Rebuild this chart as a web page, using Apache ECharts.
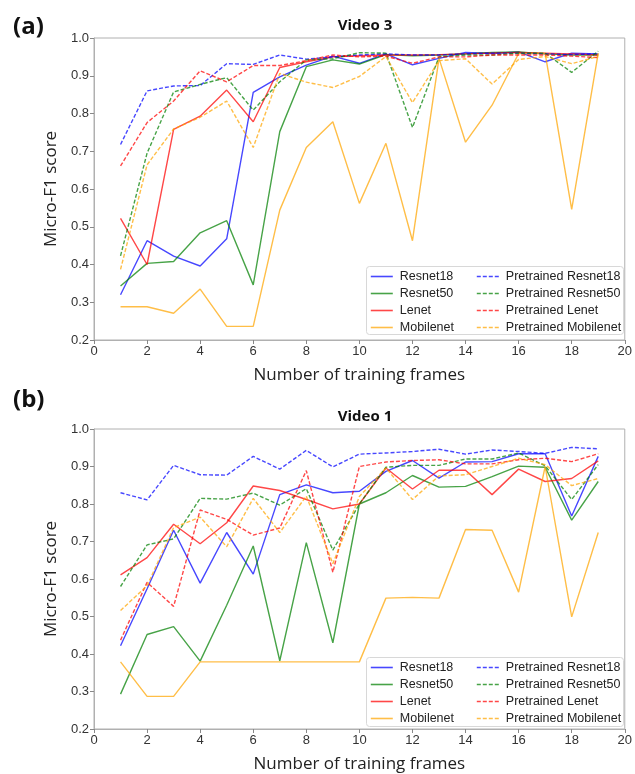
<!DOCTYPE html>
<html>
<head>
<meta charset="utf-8">
<script src="https://cdn.jsdelivr.net/npm/echarts@6/dist/echarts.min.js"></script>
<style>
html,body{margin:0;padding:0;background:#fff;}
#c{width:635px;height:774px;}
</style>
</head>
<body>
<div id="c"></div>
<script>
const frames = [1,2,3,4,5,6,7,8,9,10,11,12,13,14,15,16,17,18,19];
const yTicks = [0.2,0.3,0.4,0.5,0.6,0.7,0.8,0.9,1.0];
const xTicks = [0,2,4,6,8,10,12,14,16,18,20];
const seriesNames = ['Resnet18','Resnet50','Lenet','Mobilenet','Pretrained Resnet18','Pretrained Resnet50','Pretrained Lenet','Pretrained Mobilenet'];

// (a) Video 3
const v3_resnet18   = [0.320,0.463,0.422,0.396,0.468,0.856,0.897,0.928,0.952,0.933,0.958,0.929,0.946,0.962,0.959,0.963,0.937,0.960,0.958];
const v3_resnet50   = [0.343,0.403,0.408,0.484,0.516,0.346,0.752,0.924,0.942,0.931,0.956,0.953,0.955,0.958,0.962,0.963,0.958,0.955,0.955];
const v3_lenet      = [0.522,0.400,0.758,0.793,0.862,0.778,0.922,0.937,0.950,0.953,0.955,0.955,0.956,0.958,0.960,0.962,0.960,0.958,0.955];
const v3_mobilenet  = [0.288,0.288,0.271,0.335,0.236,0.236,0.544,0.710,0.778,0.562,0.721,0.463,0.946,0.724,0.822,0.959,0.959,0.546,0.960];
const v3_pResnet18  = [0.718,0.860,0.873,0.874,0.932,0.930,0.955,0.944,0.950,0.955,0.958,0.955,0.955,0.958,0.960,0.960,0.958,0.956,0.958];
const v3_pResnet50  = [0.423,0.695,0.857,0.877,0.895,0.809,0.884,0.942,0.945,0.961,0.960,0.763,0.950,0.955,0.955,0.960,0.960,0.909,0.965];
const v3_pLenet     = [0.661,0.776,0.833,0.913,0.884,0.927,0.927,0.940,0.955,0.950,0.952,0.933,0.950,0.950,0.955,0.955,0.955,0.952,0.948];
const v3_pMobilenet = [0.387,0.664,0.759,0.790,0.833,0.710,0.906,0.883,0.869,0.898,0.951,0.829,0.940,0.945,0.878,0.943,0.951,0.932,0.951];

// (b) Video 1
const v1_resnet18   = [0.422,0.574,0.730,0.589,0.724,0.613,0.825,0.851,0.830,0.834,0.887,0.916,0.869,0.912,0.913,0.934,0.934,0.768,0.927];
const v1_resnet50   = [0.293,0.452,0.473,0.381,0.530,0.688,0.382,0.697,0.430,0.800,0.830,0.876,0.845,0.847,0.873,0.901,0.898,0.757,0.860];
const v1_lenet      = [0.611,0.657,0.746,0.694,0.750,0.848,0.836,0.812,0.787,0.800,0.896,0.840,0.890,0.890,0.825,0.893,0.860,0.868,0.915];
const v1_mobilenet  = [0.379,0.287,0.287,0.379,0.379,0.379,0.379,0.379,0.379,0.379,0.549,0.551,0.549,0.732,0.730,0.565,0.900,0.499,0.724];
const v1_pResnet18  = [0.830,0.811,0.903,0.878,0.877,0.927,0.893,0.943,0.899,0.933,0.936,0.940,0.946,0.933,0.944,0.940,0.935,0.951,0.947];
const v1_pResnet50  = [0.580,0.691,0.707,0.815,0.813,0.829,0.797,0.841,0.677,0.800,0.898,0.903,0.903,0.920,0.920,0.936,0.902,0.812,0.905];
const v1_pLenet     = [0.437,0.591,0.527,0.784,0.759,0.717,0.736,0.889,0.618,0.900,0.912,0.916,0.918,0.907,0.907,0.918,0.922,0.913,0.934];
const v1_pMobilenet = [0.516,0.582,0.737,0.765,0.686,0.815,0.724,0.821,0.641,0.820,0.896,0.812,0.875,0.878,0.900,0.922,0.905,0.849,0.868];

const colors = ['#0000ff','#008000','#ff0000','#ffa500','#0000ff','#008000','#ff0000','#ffa500'];
const tickFont = 'Liberation Sans, Arial, sans-serif';
const nameFont = 'Open Sans, sans-serif';

const chart = echarts.init(document.getElementById('c'), null, {renderer:'canvas'});

function mkSeries(arrs, gi){
  return arrs.map((arr, i) => ({
    name: seriesNames[i],
    type: 'line',
    xAxisIndex: gi, yAxisIndex: gi,
    data: frames.map((f, k) => [f, arr[k]]),
    symbol: 'none',
    silent: true,
    animation: false,
    color: colors[i],
    lineStyle: {color: colors[i], width: 1.4, opacity: 0.72, type: i >= 4 ? [4, 2] : 'solid'}
  }));
}

const grids = [
  {left: 94, right: 8, top: 38, height: 302, show: true, borderColor: '#b0b0b0', borderWidth: 1, backgroundColor: 'transparent'},
  {left: 94, right: 8, top: 429, height: 302, show: true, borderColor: '#b0b0b0', borderWidth: 1, backgroundColor: 'transparent'}
];

function xAx(gi){
  return {
    gridIndex: gi, type: 'value', min: xTicks[0], max: xTicks[xTicks.length-1], interval: 2,
    name: 'Number of training frames', nameLocation: 'middle', nameGap: 27,
    nameTextStyle: {fontFamily: nameFont, fontSize: 17, color: '#222'},
    axisLine: {show: true, lineStyle: {color: '#b0b0b0'}},
    axisTick: {show: true, length: 4, lineStyle: {color: '#888'}},
    axisLabel: {fontFamily: tickFont, fontSize: 13, color: '#333', margin: 5},
    splitLine: {show: false}
  };
}
function yAx(gi){
  return {
    gridIndex: gi, type: 'value', min: yTicks[0], max: yTicks[yTicks.length-1], interval: 0.1,
    name: 'Micro-F1 score', nameLocation: 'middle', nameGap: 31, nameRotate: 90,
    nameTextStyle: {fontFamily: nameFont, fontSize: 17, color: '#222'},
    axisLine: {show: true, lineStyle: {color: '#b0b0b0'}},
    axisTick: {show: true, length: 4, lineStyle: {color: '#888'}},
    axisLabel: {fontFamily: tickFont, fontSize: 13, color: '#333', margin: 5, formatter: v => v.toFixed(1)},
    splitLine: {show: false}
  };
}

function legends(top){
  const base = {
    orient: 'vertical', itemWidth: 22, itemHeight: 12, itemGap: 4,
    itemStyle: {opacity: 0},
    lineStyle: {width: 1.6},
    textStyle: {fontFamily: tickFont, fontSize: 12.5, lineHeight: 12, color: '#222', padding: [0,0,0,2]},
    selectedMode: false, padding: 0, z: 10
  };
  return [
    Object.assign({}, base, {left: 370, top: top, data: seriesNames.slice(0,4)}),
    Object.assign({}, base, {left: 476, top: top, data: seriesNames.slice(4)})
  ];
}

const option = {
  animation: false,
  backgroundColor: '#fff',
  title: [
    {text: 'Video 3', left: 360, top: 13, textAlign: 'center', textStyle: {fontFamily: nameFont, fontSize: 15, fontWeight: 'bold', color: '#111'}},
    {text: 'Video 1', left: 360, top: 404, textAlign: 'center', textStyle: {fontFamily: nameFont, fontSize: 15, fontWeight: 'bold', color: '#111'}},
    {text: '(a)', left: 8, top: 10, textStyle: {fontFamily: nameFont, fontSize: 24, fontWeight: 'bold', color: '#111'}},
    {text: '(b)', left: 8, top: 383, textStyle: {fontFamily: nameFont, fontSize: 24, fontWeight: 'bold', color: '#111'}}
  ],
  grid: grids,
  xAxis: [xAx(0), xAx(1)],
  yAxis: [yAx(0), yAx(1)],
  graphic: [
    {type: 'rect', left: 366, top: 266, z: 5, shape: {width: 257, height: 68, r: 3}, style: {fill: 'rgba(255,255,255,0.85)', stroke: '#d8d8d8', lineWidth: 1}},
    {type: 'rect', left: 366, top: 657, z: 5, shape: {width: 257, height: 69, r: 3}, style: {fill: 'rgba(255,255,255,0.85)', stroke: '#d8d8d8', lineWidth: 1}}
  ],
  legend: legends(270).concat(legends(661)),
  series: mkSeries([v3_resnet18, v3_resnet50, v3_lenet, v3_mobilenet, v3_pResnet18, v3_pResnet50, v3_pLenet, v3_pMobilenet], 0)
    .concat(mkSeries([v1_resnet18, v1_resnet50, v1_lenet, v1_mobilenet, v1_pResnet18, v1_pResnet50, v1_pLenet, v1_pMobilenet], 1))
};
chart.setOption(option);
</script>
</body>
</html>
